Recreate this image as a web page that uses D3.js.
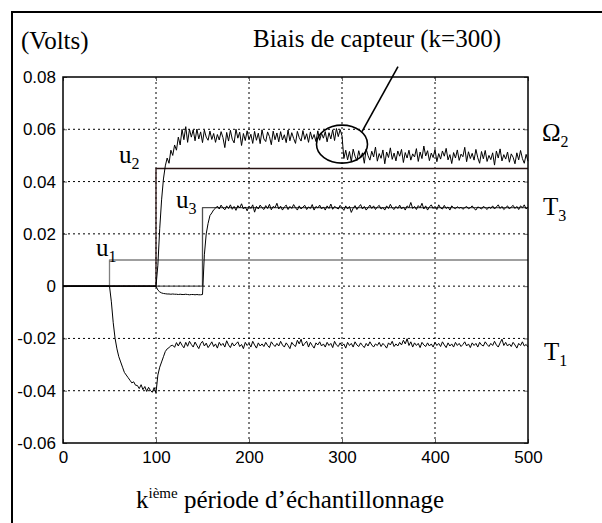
<!DOCTYPE html>
<html><head><meta charset="utf-8">
<script src="https://cdn.jsdelivr.net/npm/d3@7"></script>
<style>
html,body{margin:0;padding:0;background:#fff;}
svg{display:block;}
</style></head>
<body>
<svg id="chart" width="602" height="523"></svg>
<script>
// ---- data ----
const xTicks = [0, 100, 200, 300, 400, 500];
const yTicks = [-0.06, -0.04, -0.02, 0, 0.02, 0.04, 0.06, 0.08];
const yTickLabels = ["-0.06", "-0.04", "-0.02", "0", "0.02", "0.04", "0.06", "0.08"];
const sampleK = d3.range(0, 501, 2); // sample index, every 2nd period

const u1K = [0, 50, 50, 500],   u1V = [0, 0, 0.01, 0.01];
const u2K = [0, 100, 100, 500], u2V = [0, 0, 0.045, 0.045];
const u3K = [0, 150, 150, 500], u3V = [0, 0, 0.03, 0.03];

const omega2 = [
0,0,0,0,0,0,0,0,0,0,
0,0,0,0,0,0,0,0,0,0,
0,0,0,0,0,0,0,0,0,0,
0,0,0,0,0,0,0,0,0,0,
0,0,0,0,0,0,0,0,0,0,
0,0.008,0.022,0.033,0.041,0.046,0.049,0.047,0.052,0.050,
0.054,0.052,0.057,0.054,0.060,0.056,0.061,0.055,0.060,0.0570,
0.0598,0.0556,0.0601,0.0563,0.0590,0.0549,0.0597,0.0570,0.0558,0.0593,
0.0561,0.0584,0.0550,0.0580,0.0559,0.0591,0.0568,0.0530,0.0588,0.0555,
0.0596,0.0562,0.0548,0.0600,0.0566,0.0589,0.0538,0.0584,0.0557,0.0594,
0.0560,0.0581,0.0546,0.0592,0.0558,0.0585,0.0545,0.0598,0.0563,0.0553,
0.0590,0.0572,0.0541,0.0593,0.0560,0.0586,0.0552,0.0591,0.0559,0.0579,
0.0549,0.0597,0.0556,0.0587,0.0565,0.0546,0.0592,0.0568,0.0555,0.0595,
0.0561,0.0583,0.0550,0.0590,0.0562,0.0580,0.0553,0.0594,0.0558,0.0585,
0.0566,0.0591,0.0552,0.0587,0.0563,0.0598,0.0557,0.0603,0.0572,0.0599,
0.0575,0.0488,0.0520,0.0483,0.0515,0.0476,0.0524,0.0497,0.0480,0.0518,
0.0490,0.0510,0.0470,0.0525,0.0499,0.0482,0.0516,0.0494,0.0532,0.0478,
0.0507,0.0489,0.0521,0.0468,0.0513,0.0492,0.0529,0.0485,0.0509,0.0479,
0.0517,0.0497,0.0523,0.0473,0.0511,0.0490,0.0520,0.0482,0.0506,0.0494,
0.0526,0.0477,0.0513,0.0488,0.0536,0.0498,0.0518,0.0480,0.0509,0.0492,
0.0523,0.0476,0.0507,0.0486,0.0517,0.0497,0.0527,0.0483,0.0503,0.0469,
0.0511,0.0490,0.0521,0.0481,0.0505,0.0495,0.0531,0.0476,0.0514,0.0488,
0.0508,0.0482,0.0523,0.0491,0.0470,0.0515,0.0487,0.0519,0.0477,0.0500,
0.0484,0.0510,0.0463,0.0517,0.0490,0.0525,0.0479,0.0503,0.0486,0.0513,
0.0474,0.0506,0.0493,0.0468,0.0510,0.0483,0.0519,0.0488,0.0470,0.0504,
0.0478];

const t3 = [
0,0,0,0,0,0,0,0,0,0,
0,0,0,0,0,0,0,0,0,0,
0,0,0,0,0,0,0,0,0,0,
0,0,0,0,0,0,0,0,0,0,
0,0,0,0,0,0,0,0,0,0,
0,-0.0015,-0.0022,-0.0026,-0.0028,-0.0029,-0.0030,-0.0030,-0.0031,-0.0030,
-0.0031,-0.0031,-0.0032,-0.0031,-0.0032,-0.0032,-0.0031,-0.0032,-0.0033,-0.0032,
-0.0032,-0.0033,-0.0032,-0.0033,-0.0033,-0.0032,0.012,0.020,0.024,0.027,
0.0280,0.0292,0.0298,0.0306,0.0295,0.0310,0.0299,0.0292,0.0307,0.0297,
0.0311,0.0294,0.0305,0.0290,0.0308,0.0299,0.0315,0.0295,0.0303,0.0288,
0.0306,0.0297,0.0311,0.0283,0.0305,0.0295,0.0310,0.0300,0.0293,0.0308,
0.0297,0.0313,0.0292,0.0305,0.0300,0.0317,0.0295,0.0306,0.0291,0.0303,
0.0310,0.0293,0.0305,0.0297,0.0312,0.0300,0.0291,0.0307,0.0295,0.0303,
0.0309,0.0293,0.0303,0.0297,0.0312,0.0291,0.0305,0.0299,0.0310,0.0295,
0.0303,0.0291,0.0307,0.0297,0.0314,0.0294,0.0305,0.0300,0.0295,0.0309,
0.0300,0.0290,0.0307,0.0295,0.0305,0.0282,0.0298,0.0308,0.0293,0.0303,
0.0312,0.0295,0.0305,0.0291,0.0300,0.0310,0.0297,0.0307,0.0293,0.0303,
0.0309,0.0295,0.0301,0.0291,0.0307,0.0297,0.0313,0.0299,0.0293,0.0305,
0.0297,0.0310,0.0295,0.0303,0.0291,0.0307,0.0300,0.0320,0.0297,0.0305,
0.0293,0.0308,0.0300,0.0317,0.0295,0.0307,0.0291,0.0303,0.0311,0.0297,
0.0305,0.0293,0.0311,0.0299,0.0295,0.0309,0.0297,0.0303,0.0291,0.0307,
0.0300,0.0296,0.0304,0.0298,0.0302,0.0294,0.0300,0.0305,0.0296,0.0300,
0.0307,0.0297,0.0291,0.0303,0.0300,0.0295,0.0305,0.0300,0.0293,0.0303,
0.0297,0.0307,0.0295,0.0303,0.0311,0.0297,0.0305,0.0293,0.0300,0.0307,
0.0295,0.0303,0.0309,0.0297,0.0305,0.0293,0.0307,0.0300,0.0311,0.0295,
0.0303];

const t1 = [
0,0,0,0,0,0,0,0,0,0,
0,0,0,0,0,0,0,0,0,0,
0,0,0,0,0,0,-0.006,-0.014,-0.020,-0.024,
-0.027,-0.029,-0.031,-0.033,-0.034,-0.035,-0.036,-0.037,-0.0366,-0.0379,
-0.0380,-0.0392,-0.0377,-0.0396,-0.0384,-0.0403,-0.0387,-0.0399,-0.0406,-0.0388,
-0.0408,-0.034,-0.031,-0.029,-0.027,-0.025,-0.024,-0.0235,-0.0228,-0.0226,
-0.0234,-0.0216,-0.0229,-0.0213,-0.0226,-0.0236,-0.0215,-0.0230,-0.0211,-0.0223,
-0.0233,-0.0214,-0.0227,-0.0239,-0.0220,-0.0211,-0.0229,-0.0218,-0.0235,-0.0225,
-0.0213,-0.0231,-0.0221,-0.0237,-0.0215,-0.0227,-0.0219,-0.0233,-0.0209,-0.0225,
-0.0235,-0.0217,-0.0229,-0.0221,-0.0213,-0.0231,-0.0223,-0.0239,-0.0215,-0.0227,
-0.0219,-0.0233,-0.0211,-0.0225,-0.0237,-0.0217,-0.0229,-0.0221,-0.0231,-0.0215,
-0.0227,-0.0235,-0.0213,-0.0223,-0.0231,-0.0219,-0.0229,-0.0211,-0.0225,-0.0233,
-0.0217,-0.0227,-0.0239,-0.0215,-0.0225,-0.0231,-0.0207,-0.0221,-0.0203,-0.0229,
-0.0219,-0.0211,-0.0233,-0.0215,-0.0227,-0.0237,-0.0217,-0.0225,-0.0213,-0.0229,
-0.0221,-0.0233,-0.0215,-0.0227,-0.0219,-0.0235,-0.0211,-0.0225,-0.0231,-0.0217,
-0.0229,-0.0221,-0.0237,-0.0215,-0.0227,-0.0219,-0.0233,-0.0213,-0.0225,-0.0231,
-0.0217,-0.0227,-0.0235,-0.0219,-0.0229,-0.0213,-0.0225,-0.0233,-0.0221,-0.0227,
-0.0215,-0.0231,-0.0219,-0.0227,-0.0237,-0.0217,-0.0225,-0.0211,-0.0231,-0.0221,
-0.0229,-0.0215,-0.0225,-0.0207,-0.0221,-0.0201,-0.0227,-0.0213,-0.0233,-0.0217,
-0.0227,-0.0219,-0.0235,-0.0215,-0.0225,-0.0231,-0.0217,-0.0229,-0.0221,-0.0233,
-0.0215,-0.0227,-0.0219,-0.0231,-0.0213,-0.0225,-0.0235,-0.0217,-0.0229,-0.0221,
-0.0233,-0.0215,-0.0227,-0.0219,-0.0231,-0.0223,-0.0213,-0.0229,-0.0221,-0.0235,
-0.0217,-0.0227,-0.0219,-0.0233,-0.0215,-0.0225,-0.0229,-0.0213,-0.0223,-0.0231,
-0.0219,-0.0227,-0.0211,-0.0225,-0.0233,-0.0217,-0.0203,-0.0227,-0.0215,-0.0229,
-0.0221,-0.0231,-0.0215,-0.0225,-0.0237,-0.0219,-0.0227,-0.0213,-0.0229,-0.0223,
-0.0233];

const biasK = 300, biasV = 0.0545;

// ---- drawing ----
const svg = d3.select("#chart");
const L = 63, R = 528, T = 77, B = 443;
const x = d3.scaleLinear().domain([0, 500]).range([L, R]);
const y = d3.scaleLinear().domain([-0.06, 0.08]).range([B, T]);

svg.append("rect").attr("width", 602).attr("height", 523).attr("fill", "#fff");
// outer frame
svg.append("rect").attr("x", 12).attr("y", 12).attr("width", 620).attr("height", 540)
  .attr("fill", "none").attr("stroke", "#000").attr("stroke-width", 2);

// grid
const g = svg.append("g");
g.selectAll(".vg").data(xTicks.slice(1, -1)).join("line")
  .attr("x1", d => x(d)).attr("x2", d => x(d)).attr("y1", T).attr("y2", B)
  .attr("stroke", "#000").attr("stroke-width", 1).attr("stroke-dasharray", "2,3");
g.selectAll(".hg").data(yTicks.slice(1, -1)).join("line")
  .attr("y1", d => y(d)).attr("y2", d => y(d)).attr("x1", L).attr("x2", R)
  .attr("stroke", "#000").attr("stroke-width", 1).attr("stroke-dasharray", "2,3");

// axes
const ax = d3.axisBottom(x).tickValues(xTicks).tickSizeInner(-4).tickSizeOuter(0).tickPadding(8);
const ay = d3.axisLeft(y).tickValues(yTicks).tickSizeInner(-4).tickSizeOuter(0).tickPadding(7)
  .tickFormat((d, i) => yTickLabels[i]);
const axT = d3.axisTop(x).tickValues(xTicks).tickSizeInner(-4).tickSizeOuter(0).tickFormat("");
const ayR = d3.axisRight(y).tickValues(yTicks).tickSizeInner(-4).tickSizeOuter(0).tickFormat("");
function styleAxis(sel) {
  sel.select(".domain").remove();
  sel.selectAll("line").attr("stroke", "#666");
  sel.selectAll("text").attr("font-family", "'Liberation Sans', Arial, sans-serif")
    .attr("font-size", 17).attr("fill", "#000");
}
svg.append("g").attr("transform", `translate(0,${B})`).call(ax).call(styleAxis);
svg.append("g").attr("transform", `translate(${L},0)`).call(ay).call(styleAxis);
svg.append("g").attr("transform", `translate(0,${T})`).call(axT).call(styleAxis);
svg.append("g").attr("transform", `translate(${R},0)`).call(ayR).call(styleAxis);

// series
const lineKV = d3.line().x(d => x(d[0])).y(d => y(d[1]));
function drawSeries(ks, vs, color, w) {
  svg.append("path").datum(ks.map((k, i) => [k, vs[i]]))
    .attr("d", lineKV).attr("fill", "none").attr("stroke", color)
    .attr("stroke-width", w).attr("stroke-linejoin", "round");
}
drawSeries(u1K, u1V, "#808080", 1.3);
drawSeries(u3K, u3V, "#505050", 1.3);
drawSeries(u2K, u2V, "#2a1414", 1.3);
drawSeries(sampleK, t1, "#000", 1);
drawSeries(sampleK, t3, "#000", 1);
drawSeries(sampleK, omega2, "#000", 1);

// plot box
svg.append("rect").attr("x", L).attr("y", T).attr("width", R - L).attr("height", B - T)
  .attr("fill", "none").attr("stroke", "#000").attr("stroke-width", 1.5);

// annotations
const serif = "'Liberation Serif', 'Times New Roman', serif";
function label(xp, yp, main, sub) {
  const t = svg.append("text").attr("x", xp).attr("y", yp)
    .attr("font-family", serif).attr("font-size", 25).attr("fill", "#000");
  t.append("tspan").text(main);
  if (sub) t.append("tspan").attr("font-size", 16).attr("dy", 6).text(sub);
  return t;
}
svg.append("text").attr("x", 21).attr("y", 49).attr("font-family", serif)
  .attr("font-size", 25).text("(Volts)");
svg.append("text").attr("x", 253).attr("y", 47).attr("font-family", serif)
  .attr("font-size", 25).text("Biais de capteur (k=300)");
label(542, 141, "Ω", "2");
label(543, 215, "T", "3");
label(544, 360, "T", "1");
label(119, 163, "u", "2");
label(176, 208, "u", "3");
label(96, 256, "u", "1");

// x title
const xt = svg.append("text").attr("x", 136).attr("y", 508)
  .attr("font-family", serif).attr("font-size", 25);
xt.append("tspan").text("k");
xt.append("tspan").attr("font-size", 15).attr("dy", -10).text("ième");
xt.append("tspan").attr("dy", 10).text(" période d’échantillonnage");

// bias circle and pointer
svg.append("ellipse").attr("cx", x(biasK)).attr("cy", y(biasV) + 0.5).attr("rx", 25.5).attr("ry", 19)
  .attr("fill", "none").attr("stroke", "#000").attr("stroke-width", 1.6);
svg.append("line").attr("x1", x(biasK) + 20).attr("y1", y(biasV) - 12)
  .attr("x2", x(biasK) + 56).attr("y2", y(biasV) - 77)
  .attr("stroke", "#000").attr("stroke-width", 1.6);
</script>
</body></html>
